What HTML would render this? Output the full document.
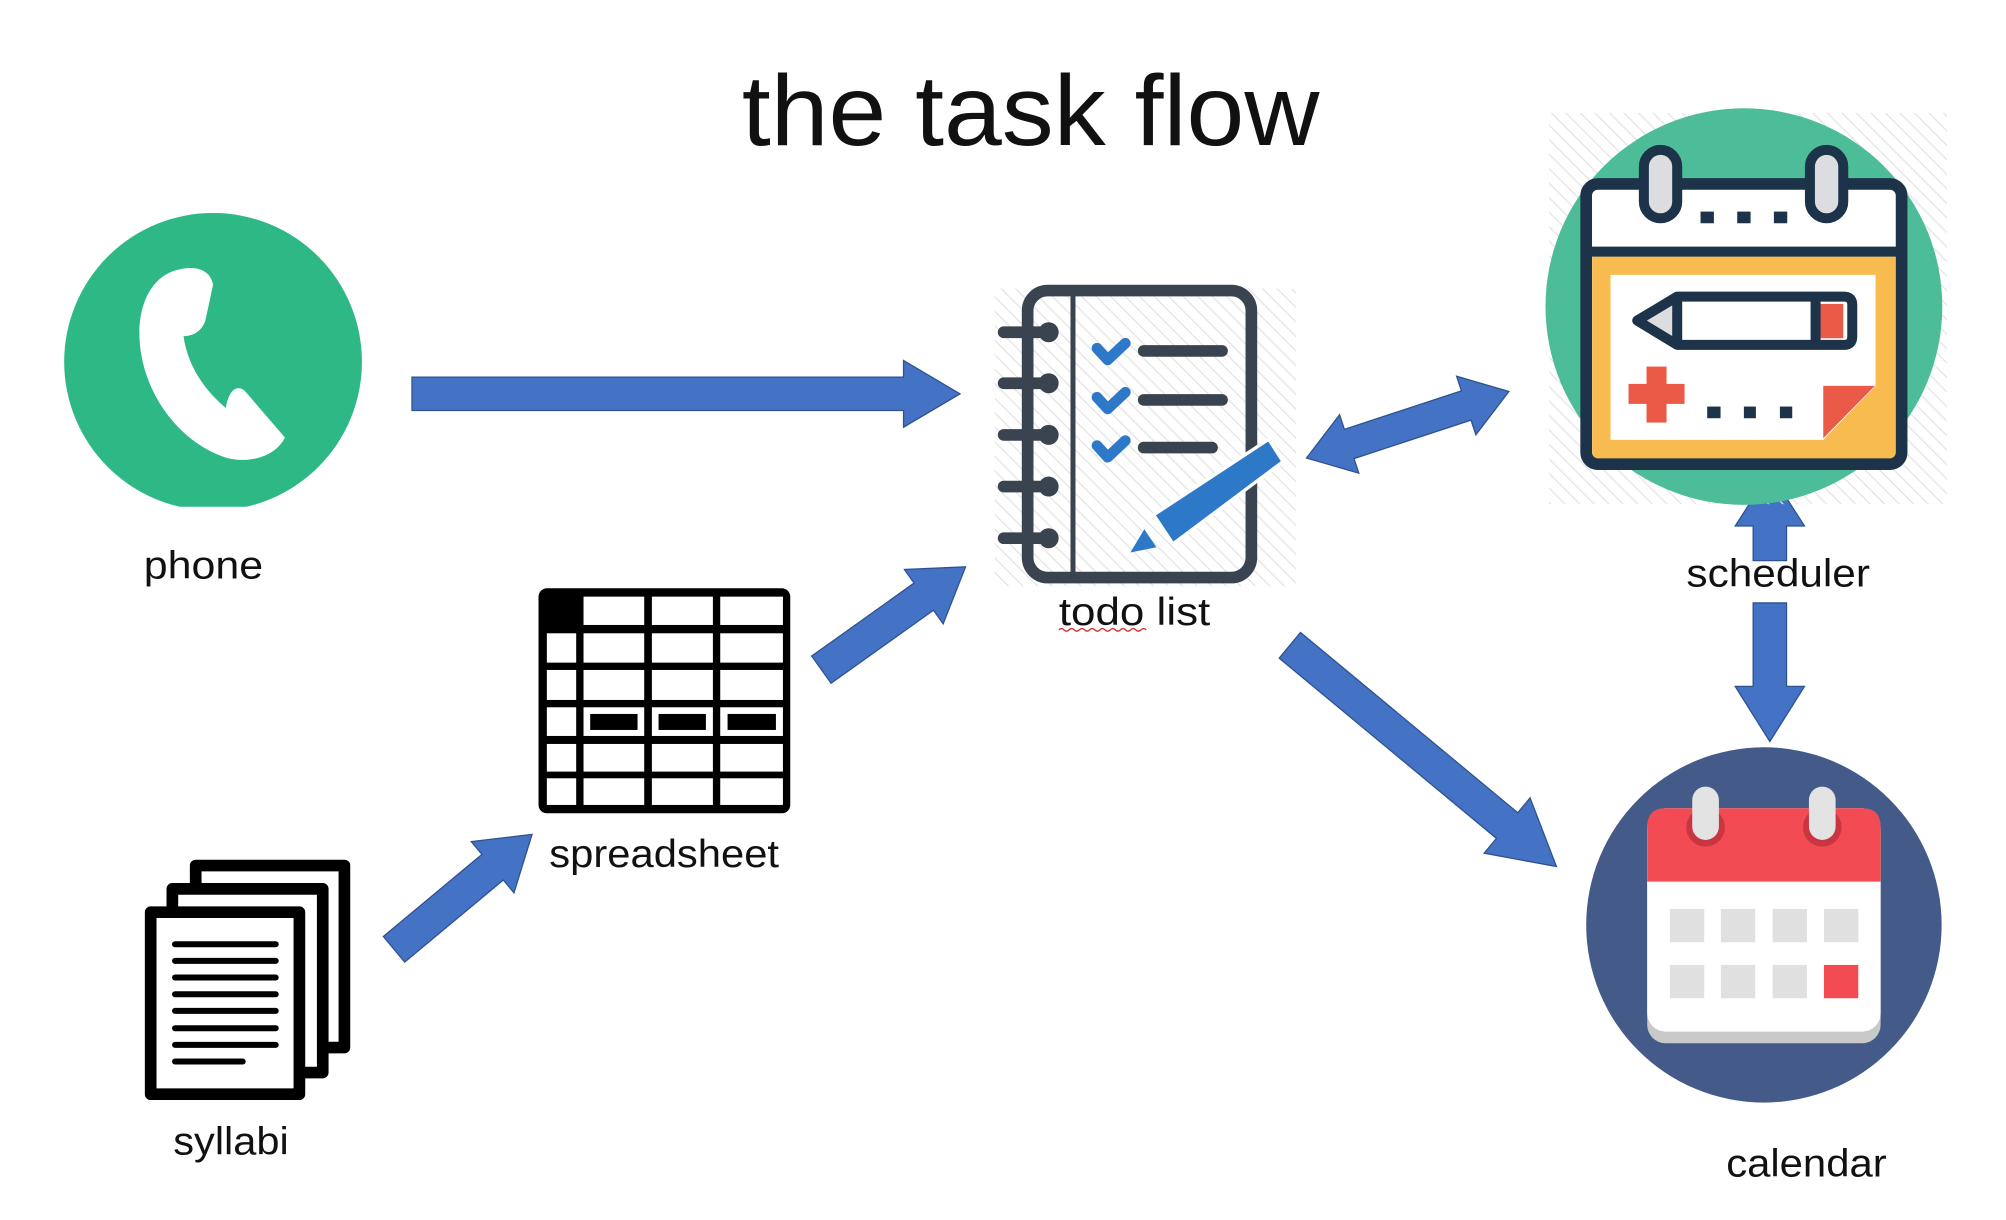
<!DOCTYPE html>
<html><head><meta charset="utf-8"><style>html,body{margin:0;padding:0;background:#fff}svg{display:block}</style></head>
<body>
<svg width="2006" height="1220" viewBox="0 0 1563 951" preserveAspectRatio="none" xmlns="http://www.w3.org/2000/svg" font-family="'Liberation Sans', sans-serif">
<defs>
<pattern id="hatch" width="8" height="8" patternUnits="userSpaceOnUse" patternTransform="rotate(-45)"><line x1="0" y1="0" x2="0" y2="8" stroke="#e4e4e4" stroke-width="2"/></pattern>
<clipPath id="pc"><rect x="40" y="150" width="260" height="245"/></clipPath>
</defs>
<rect width="1563" height="951" fill="#fff"/>
<text x="578" y="113" font-size="78" textLength="450" lengthAdjust="spacingAndGlyphs" fill="#111">the task flow</text>

<!-- phone -->
<g clip-path="url(#pc)"><circle cx="166" cy="282" r="116" fill="#2db886"/></g>
<path d="M140 210 C118 214 104 240 110 276 C116 312 142 346 177 357 C197 362 216 354 222 341 L191 305 C185 299 178 304 176 318 C160 305 146 285 143 262 C151 262 157 258 160 250 L166 222 C164 210 152 207 140 210 Z" fill="#fff"/>
<text x="112" y="451" font-size="30" textLength="93" lengthAdjust="spacingAndGlyphs" fill="#111">phone</text>

<!-- arrows -->
<g fill="#4472c4" stroke="#2f528f" stroke-width="1">
<polygon transform="translate(321,307)" points="0,-13 383,-13 383,-26 427,0 383,26 383,13 0,13"/>
<polygon transform="translate(640,522) rotate(-35.5)" points="0,-13 98,-13 98,-26 138,0 98,26 98,13 0,13"/>
<polygon transform="translate(307,740) rotate(-39.8)" points="0,-13 100,-13 100,-26 140,0 100,26 100,13 0,13"/>
<polygon transform="translate(1005,503) rotate(39.7)" points="0,-13 220,-13 220,-28 270,0 220,28 220,13 0,13"/>
<polygon transform="translate(1018,357) rotate(-18.2)" points="0,0 35,-24 35,-12 131,-12 131,-24 166,0 131,24 131,12 35,12 35,24"/>
<polygon points="1366,437 1366,410 1352,410 1379,368 1406,410 1392,410 1392,437"/>
<polygon points="1366,470 1392,470 1392,535 1406,535 1379,578 1352,535 1366,535"/>
</g>

<!-- todo -->
<rect x="775" y="225" width="235" height="232" fill="url(#hatch)"/>
<g transform="translate(771.6,218.2) scale(0.2598)">
<rect x="112" y="32" width="671" height="861" rx="60" fill="none" stroke="#3a4350" stroke-width="35"/>
<line x1="248" y1="32" x2="248" y2="893" stroke="#3a4350" stroke-width="15"/>
<g stroke="#3a4350" stroke-width="35" stroke-linecap="round">
<line x1="40" y1="157" x2="175" y2="157"/><line x1="40" y1="310" x2="175" y2="310"/><line x1="40" y1="465" x2="175" y2="465"/><line x1="40" y1="620" x2="175" y2="620"/><line x1="40" y1="775" x2="175" y2="775"/>
<line x1="460" y1="213" x2="695" y2="213"/><line x1="460" y1="360" x2="695" y2="360"/><line x1="460" y1="503" x2="665" y2="503"/>
</g>
<g fill="#3a4350"><circle cx="175" cy="157" r="30"/><circle cx="175" cy="310" r="30"/><circle cx="175" cy="465" r="30"/><circle cx="175" cy="620" r="30"/><circle cx="175" cy="775" r="30"/></g>
<g fill="none" stroke="#2e78c8" stroke-width="32" stroke-linecap="round" stroke-linejoin="round">
<polyline points="320,205 352,240 405,190"/><polyline points="320,352 352,387 405,337"/><polyline points="320,497 352,532 405,482"/>
</g>
<polygon points="490,705 835,478 878,545 548,792" fill="#2e78c8" stroke="#fff" stroke-width="10"/>
<polygon points="420,818 462,748 498,802" fill="#2e78c8"/>
</g>
<text x="825" y="487" font-size="30" textLength="118" lengthAdjust="spacingAndGlyphs" fill="#111">todo list</text>
<path d="M825 491 q2 -2 4 0 t4 0 t4 0 t4 0 t4 0 t4 0 t4 0 t4 0 t4 0 t4 0 t4 0 t4 0 t4 0 t4 0 t4 0 t4 0 t4 0" fill="none" stroke="#d03030" stroke-width="1"/>

<!-- spreadsheet -->
<g transform="translate(405.3,444.3) scale(0.2598)">
<rect x="55" y="55" width="755" height="675" rx="25" fill="#000"/>
<g fill="#fff">
<rect x="190" y="80" width="182" height="85"/><rect x="395" y="80" width="183" height="85"/><rect x="600" y="80" width="188" height="85"/>
<rect x="80" y="190" width="88" height="88"/><rect x="190" y="190" width="182" height="88"/><rect x="395" y="190" width="183" height="88"/><rect x="600" y="190" width="188" height="88"/>
<rect x="80" y="300" width="88" height="90"/><rect x="190" y="300" width="182" height="90"/><rect x="395" y="300" width="183" height="90"/><rect x="600" y="300" width="188" height="90"/>
<rect x="80" y="412" width="88" height="86"/><rect x="190" y="412" width="182" height="86"/><rect x="395" y="412" width="183" height="86"/><rect x="600" y="412" width="188" height="86"/>
<rect x="80" y="522" width="88" height="83"/><rect x="190" y="522" width="182" height="83"/><rect x="395" y="522" width="183" height="83"/><rect x="600" y="522" width="188" height="83"/>
<rect x="80" y="625" width="88" height="80"/><rect x="190" y="625" width="182" height="80"/><rect x="395" y="625" width="183" height="80"/><rect x="600" y="625" width="188" height="80"/>
</g>
<g fill="#000"><rect x="210" y="432" width="142" height="48"/><rect x="415" y="432" width="142" height="48"/><rect x="622" y="432" width="145" height="48"/></g>
</g>
<text x="428" y="676" font-size="30" textLength="179" lengthAdjust="spacingAndGlyphs" fill="#111">spreadsheet</text>

<!-- syllabi -->
<g transform="translate(101.3,662.5) scale(0.2598)" fill="#fff" stroke="#000" stroke-width="35" stroke-linejoin="round">
<rect x="197" y="47" width="446" height="546"/>
<rect x="127" y="117" width="451" height="551"/>
<rect x="62" y="187" width="446" height="546"/>
<g stroke-width="18" stroke-linecap="round">
<line x1="135" y1="283" x2="437" y2="283"/><line x1="135" y1="333" x2="437" y2="333"/><line x1="135" y1="383" x2="437" y2="383"/><line x1="135" y1="433" x2="437" y2="433"/><line x1="135" y1="483" x2="437" y2="483"/><line x1="135" y1="535" x2="437" y2="535"/><line x1="135" y1="585" x2="437" y2="585"/><line x1="135" y1="635" x2="338" y2="635"/>
</g>
</g>
<text x="135" y="900" font-size="30" textLength="90" lengthAdjust="spacingAndGlyphs" fill="#111">syllabi</text>

<!-- scheduler -->
<rect x="1207" y="88" width="310" height="305" fill="url(#hatch)"/>
<g transform="translate(1200.3,77.9) scale(0.2598)">
<circle cx="610" cy="620" r="595" fill="#4dbd99"/>
<rect x="137" y="252" width="946" height="841" rx="35" fill="#fff"/>
<rect x="155" y="470" width="910" height="610" fill="#f8bb4f"/>
<polygon points="210,525 1005,525 1005,858 848,1020 210,1020" fill="#fff"/>
<polygon points="848,858 1003,858 848,1015" fill="#ea5a47"/>
<line x1="137" y1="455" x2="1083" y2="455" stroke="#1c3349" stroke-width="30"/>
<rect x="137" y="252" width="946" height="841" rx="35" fill="none" stroke="#1c3349" stroke-width="35"/>
<g fill="#1c3349"><rect x="480" y="335" width="40" height="35"/><rect x="590" y="335" width="40" height="35"/><rect x="700" y="335" width="40" height="35"/>
<rect x="500" y="920" width="40" height="35"/><rect x="610" y="920" width="36" height="35"/><rect x="718" y="920" width="37" height="35"/></g>
<g fill="#dcdde0" stroke="#1c3349" stroke-width="30"><rect x="310" y="150" width="100" height="205" rx="50"/><rect x="808" y="150" width="100" height="205" rx="50"/></g>
<polygon points="290,662 410,590 410,735" fill="#dcdde0"/>
<rect x="832" y="612" width="76" height="103" fill="#ea5a47"/>
<path d="M290 662 L410 590 L910 590 Q935 590 935 615 L935 710 Q935 735 910 735 L410 735 Z M410 590 L410 735 M825 590 L825 735" fill="none" stroke="#1c3349" stroke-width="30" stroke-linejoin="round"/>
<g fill="#ea5a47"><rect x="318" y="800" width="60" height="168"/><rect x="264" y="852" width="168" height="60"/></g>
</g>
<text x="1314" y="457" font-size="30" textLength="143" lengthAdjust="spacingAndGlyphs" fill="#111">scheduler</text>

<!-- calendar -->
<g transform="translate(1215.9,576.8) scale(0.2598)">
<circle cx="610" cy="555" r="533" fill="#445b8a"/>
<rect x="260" y="220" width="700" height="690" rx="55" fill="#c9c9c9"/>
<rect x="260" y="205" width="700" height="670" rx="55" fill="#fff"/>
<path d="M315 205 L905 205 Q960 205 960 260 L960 425 L260 425 L260 260 Q260 205 315 205 Z" fill="#f24b54"/>
<circle cx="435" cy="262" r="58" fill="#c93540"/><circle cx="785" cy="262" r="58" fill="#c93540"/>
<rect x="395" y="140" width="80" height="160" rx="40" fill="#e3e3e3"/><rect x="745" y="140" width="80" height="160" rx="40" fill="#e3e3e3"/>
<g fill="#e0e0e0"><rect x="328" y="507" width="103" height="100"/><rect x="481" y="507" width="103" height="100"/><rect x="636" y="507" width="103" height="100"/><rect x="790" y="507" width="103" height="100"/>
<rect x="328" y="675" width="103" height="100"/><rect x="481" y="675" width="103" height="100"/><rect x="636" y="675" width="103" height="100"/></g>
<rect x="790" y="675" width="103" height="100" fill="#f24b54"/>
</g>
<text x="1345" y="917" font-size="30" textLength="125" lengthAdjust="spacingAndGlyphs" fill="#111">calendar</text>
</svg>
</body></html>
